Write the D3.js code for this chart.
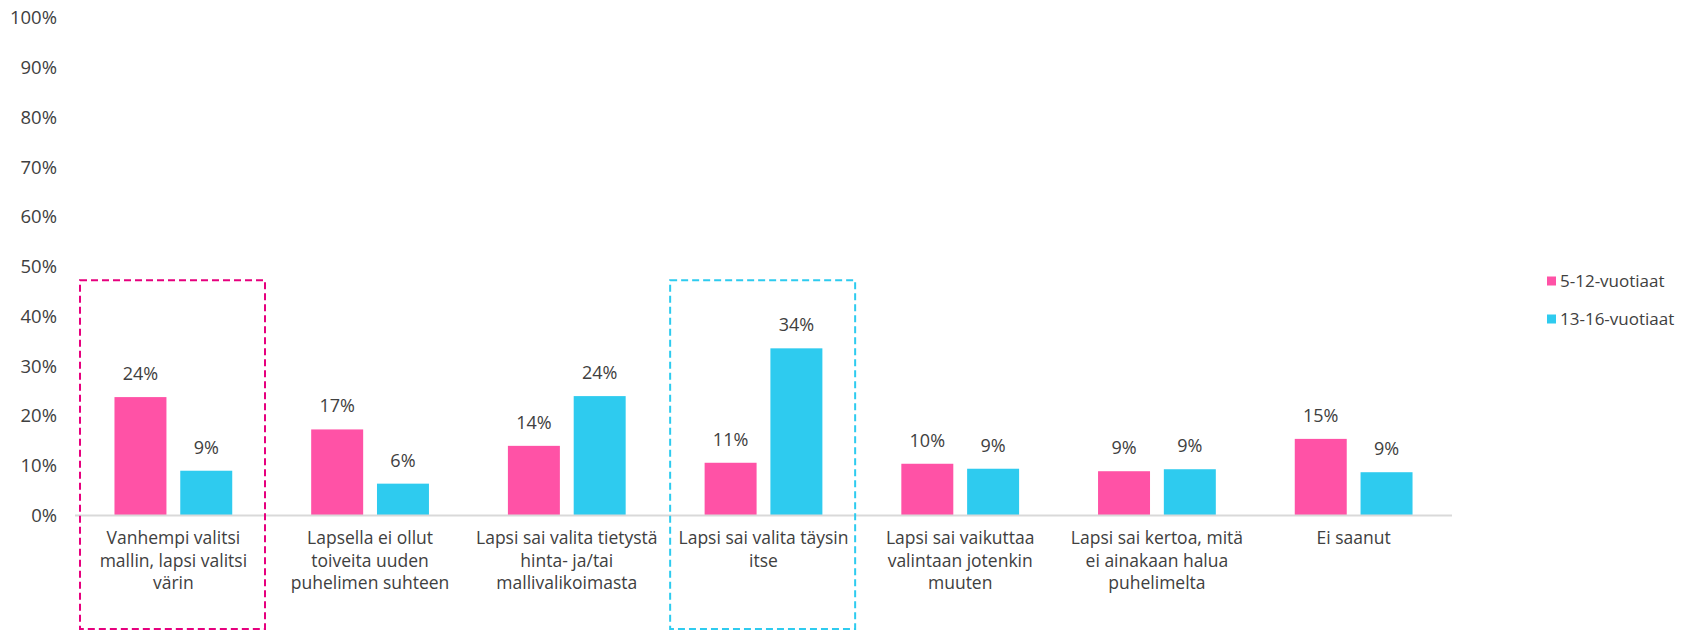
<!DOCTYPE html>
<html>
<head>
<meta charset="utf-8">
<script src="https://cdn.jsdelivr.net/npm/d3@7"></script>
<style>
    body { margin: 0; background: #fff; }
    svg text { font-family: "Open Sans", Lato, sans-serif; fill: #404040; }
</style>
</head>
<body>
<div id="chart"></div>
<script>
// categories, line breaks as in the original
const categories = [
    "Vanhempi valitsi|mallin, lapsi valitsi|värin",
    "Lapsella ei ollut|toiveita uuden|puhelimen suhteen",
    "Lapsi sai valita tietystä|hinta- ja/tai|mallivalikoimasta",
    "Lapsi sai valita täysin|itse",
    "Lapsi sai vaikuttaa|valintaan jotenkin|muuten",
    "Lapsi sai kertoa, mitä|ei ainakaan halua|puhelimelta",
    "Ei saanut"
]
const seriesNames = ["5-12-vuotiaat", "13-16-vuotiaat"]
const young = [23.8, 17.3, 14.0, 10.6, 10.4, 8.9, 15.4]
const teen = [9.0, 6.4, 24.0, 33.6, 9.4, 9.3, 8.7]
const yTicks = [0, 10, 20, 30, 40, 50, 60, 70, 80, 90, 100]
// highlighted categories (dashed boxes)
const highlights = [
    { cat: 0, color: "#e6007e" },
    { cat: 3, color: "#2ecbef" }
]

const colors = ["#ff52a6", "#2ecbef"]
const W = 1681, H = 631

const svg = d3.select("#chart").append("svg")
    .attr("width", W)
    .attr("height", H)

const x = d3.scaleBand()
    .domain(d3.range(categories.length))
    .range([75, 1452])

const x1 = d3.scaleBand()
    .domain([0, 1])
    .range([0, x.bandwidth()])
    .paddingInner(0.21)
    .paddingOuter(0.6)

const y = d3.scaleLinear()
    .domain([0, 100])
    .range([515.5, 18])

// y tick labels (no axis line)
svg.append("g")
    .selectAll("text")
    .data(yTicks)
    .join("text")
    .attr("x", 57)
    .attr("y", d => y(d))
    .attr("dy", "0.35em")
    .attr("text-anchor", "end")
    .style("font-size", "18.5px")
    .text(d => d + "%")

// bars
const rows = categories.map((c, i) => [young[i], teen[i]])
const groups = svg.append("g")
    .selectAll("g")
    .data(rows)
    .join("g")
    .attr("transform", (d, i) => `translate(${x(i)},0)`)

groups.selectAll("rect")
    .data(d => d)
    .join("rect")
    .attr("x", (d, j) => x1(j))
    .attr("width", x1.bandwidth())
    .attr("y", d => y(d))
    .attr("height", d => y(0) - y(d))
    .attr("fill", (d, j) => colors[j])

groups.selectAll("text.val")
    .data(d => d)
    .join("text")
    .attr("class", "val")
    .attr("x", (d, j) => x1(j) + x1.bandwidth() / 2)
    .attr("y", d => y(d) - 17)
    .attr("text-anchor", "middle")
    .style("font-size", "18px")
    .text(d => Math.round(d) + "%")

// baseline
svg.append("line")
    .attr("x1", x.range()[0])
    .attr("x2", x.range()[1])
    .attr("y1", y(0))
    .attr("y2", y(0))
    .attr("stroke", "#d9d9d9")
    .attr("stroke-width", 2)

// category labels
svg.append("g")
    .selectAll("text")
    .data(categories)
    .join("text")
    .attr("x", (d, i) => x(i) + x.bandwidth() / 2)
    .attr("y", 544)
    .attr("text-anchor", "middle")
    .style("font-size", "17.5px")
    .each(function (d) {
        const t = d3.select(this)
        d.split("|").forEach((line, k) => {
            t.append("tspan")
                .attr("x", t.attr("x"))
                .attr("dy", k === 0 ? 0 : 22.5)
                .text(line)
        })
    })

// dashed highlight boxes
svg.append("g")
    .selectAll("rect")
    .data(highlights)
    .join("rect")
    .attr("x", d => x(d.cat) + 5)
    .attr("width", 185)
    .attr("y", y(47.3))
    .attr("height", 629 - y(47.3))
    .attr("fill", "none")
    .attr("stroke", d => d.color)
    .attr("stroke-width", 2)
    .attr("stroke-dasharray", "7,4")

// legend
const legend = svg.append("g")
    .selectAll("g")
    .data(seriesNames)
    .join("g")
    .attr("transform", (d, i) => `translate(1547,${281 + i * 38})`)

legend.append("rect")
    .attr("x", 0)
    .attr("y", -4.5)
    .attr("width", 9)
    .attr("height", 9)
    .attr("fill", (d, i) => colors[i])

legend.append("text")
    .attr("x", 13)
    .attr("dy", "0.35em")
    .style("font-size", "17px")
    .text(d => d)
</script>
</body>
</html>
